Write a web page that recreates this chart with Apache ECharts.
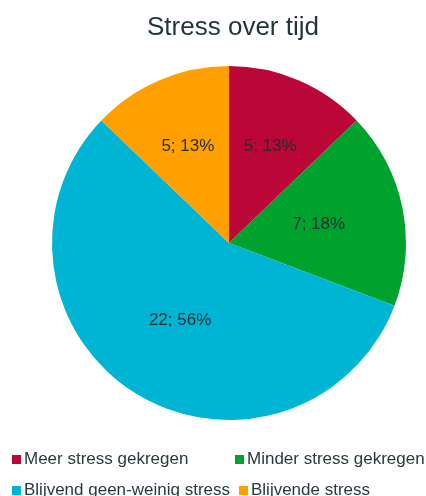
<!DOCTYPE html>
<html>
<head>
<meta charset="utf-8">
<script src="https://cdn.jsdelivr.net/npm/echarts@6/dist/echarts.min.js"></script>
<style>html,body{margin:0;padding:0;background:#fff}#c{width:426px;height:496px}</style>
</head>
<body>
<div id="c"></div>
<script>
const categories = ["Meer stress gekregen", "Minder stress gekregen", "Blijvend geen-weinig stress", "Blijvende stress"];
const values = [5, 7, 22, 5];
const colors = ["#BB0638", "#00A22E", "#00B5D3", "#FF9F00"];
const outerLabelNames = ["Meer stress gekregen", "Blijvende stress"];

const chart = echarts.init(document.getElementById('c'), null, {renderer: 'canvas'});
const total = values.reduce((a, b) => a + b, 0);
const fmt = p => p.value + '; ' + Math.round(p.value / total * 100) + '%';
const labelStyle = {fontFamily: 'Liberation Sans, Arial, sans-serif', fontSize: 17, color: '#1f2d30'};

const legendPos = [
  {left: 12, top: 451},
  {left: 235, top: 451},
  {left: 12, top: 482},
  {left: 239, top: 482}
];

chart.setOption({
  animation: false,
  title: {
    text: 'Stress over tijd', left: 228, textAlign: 'center', top: 10,
    textStyle: {fontFamily: 'Liberation Sans, Arial, sans-serif', fontSize: 26, fontWeight: 'normal', color: '#1f3538'}
  },
  legend: categories.map((n, i) => ({
    data: [n], left: legendPos[i].left, top: legendPos[i].top, padding: 0,
    icon: 'rect', itemWidth: 9, itemHeight: 9, selectedMode: false,
    textStyle: {fontFamily: 'Liberation Sans, Arial, sans-serif', fontSize: 17, color: '#2a3a3d', padding: [0, 0, 0, -2]}
  })),
  series: [
    {
      type: 'pie', center: [229, 243], radius: [0, 177], startAngle: 90, clockwise: true,
      silent: true,
      data: categories.map((n, i) => ({
        name: n, value: values[i], itemStyle: {color: colors[i]},
        label: {show: outerLabelNames.indexOf(n) < 0}
      })),
      label: Object.assign({position: 'inside', formatter: fmt}, labelStyle),
      labelLine: {show: false}
    },
    {
      type: 'pie', center: [229, 243], radius: [27, 177], startAngle: 90, clockwise: true,
      silent: true,
      data: categories.map((n, i) => ({
        name: n, value: values[i], itemStyle: {color: 'rgba(0,0,0,0)'},
        label: {show: outerLabelNames.indexOf(n) >= 0}
      })),
      label: Object.assign({position: 'inside', formatter: fmt}, labelStyle),
      labelLine: {show: false}
    }
  ]
});
</script>
</body>
</html>
